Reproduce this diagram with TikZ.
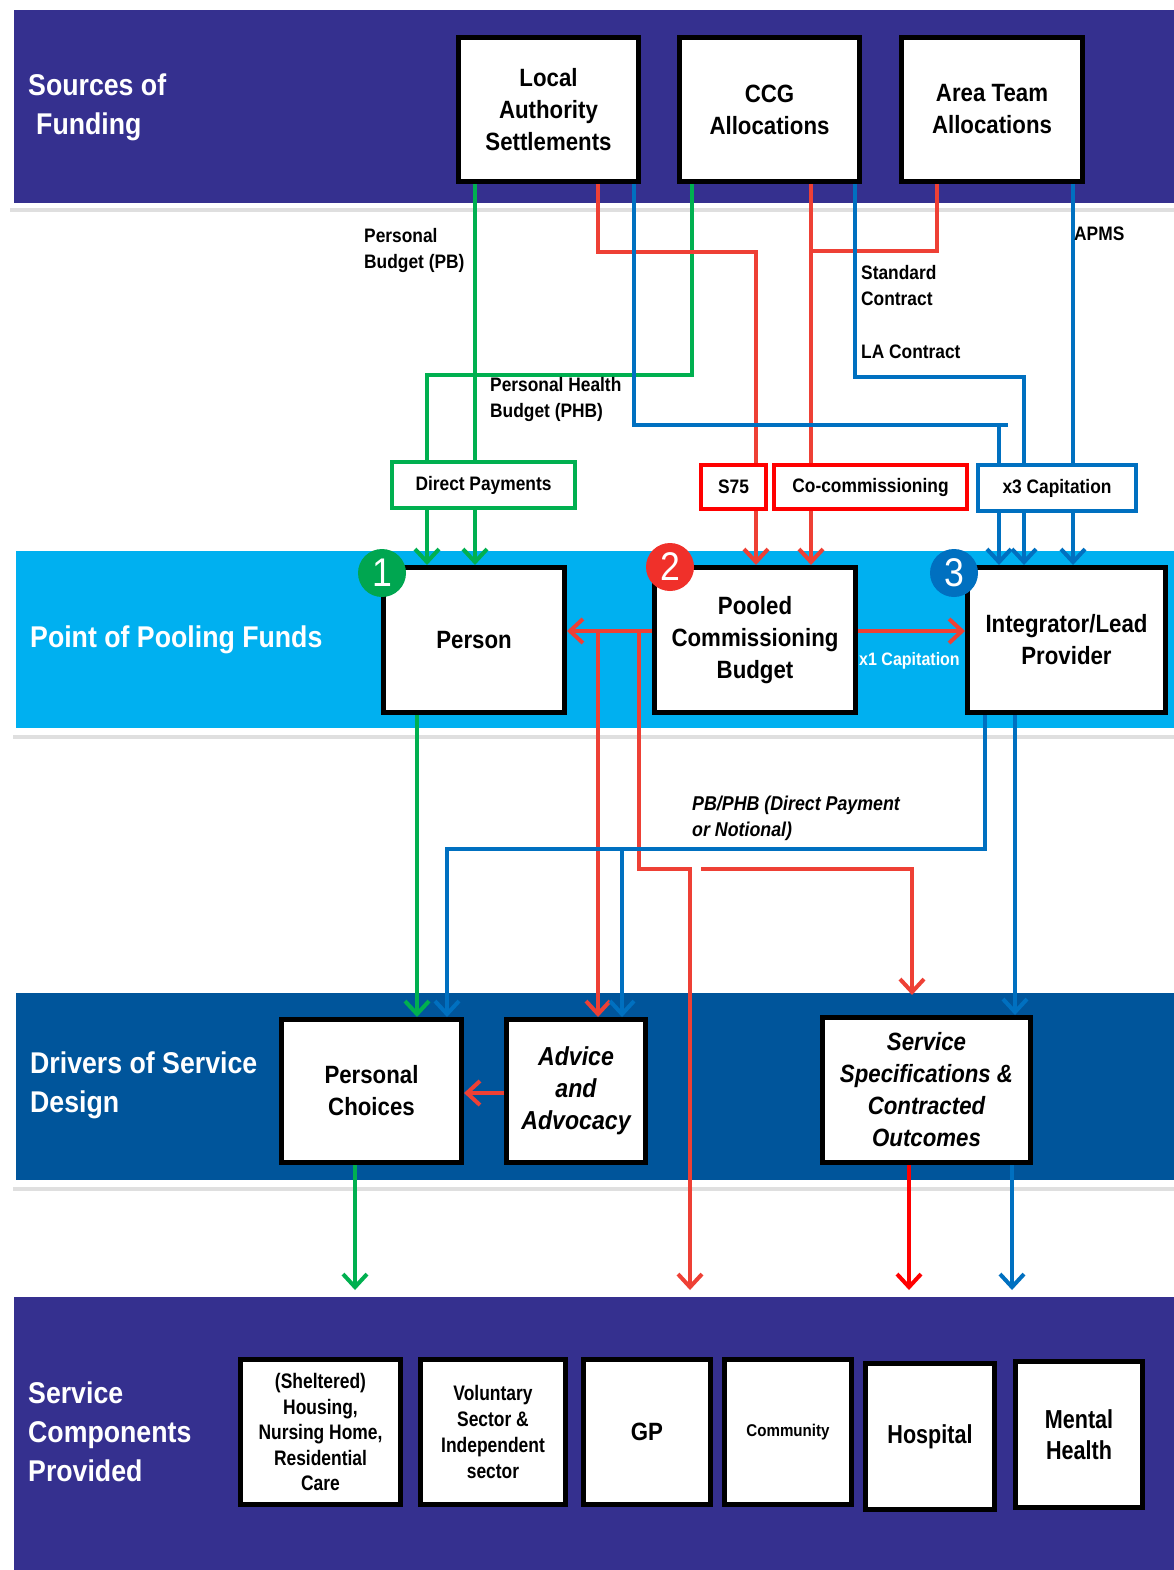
\documentclass[tikz,border=0pt]{standalone}
\usepackage{fontspec}
\setmainfont{Liberation Sans}[FakeStretch=0.89]
\newfontfamily\narrowfont{Liberation Sans}[FakeStretch=0.83]
\usetikzlibrary{arrows.meta}
\definecolor{bpurple}{HTML}{35308F}
\definecolor{bcyan}{HTML}{00B0F0}
\definecolor{bdrv}{HTML}{00559B}
\definecolor{lgreen}{HTML}{00B050}
\definecolor{lred}{HTML}{EE4035}
\definecolor{rbox}{HTML}{FF0000}
\definecolor{lblue}{HTML}{0070C0}
\definecolor{bgreen}{HTML}{00A650}
\definecolor{bred}{HTML}{F0302A}
\newcommand\fsz[2]{\fontsize{#1}{#2}\selectfont}
\begin{document}
\begin{tikzpicture}[x=1pt,y=-1pt,
 box/.style={draw=black, line width=5pt, fill=white, inner sep=0pt, align=center,
   minimum width=180pt, minimum height=144pt, font=\bfseries\fsz{25}{32}},
 sbox/.style={box, font=\narrowfont\bfseries\fsz{21}{25.5}, minimum width=127pt, minimum height=145pt},
 lbox/.style={line width=4pt, fill=white, inner sep=0pt, align=center, font=\bfseries\fsz{19.5}{24}},
 conn/.style={line width=4pt, -{Straight Barb[length=13pt,width=24pt,line width=4pt]}},
 seg/.style={line width=4pt},
 lab/.style={inner sep=0pt, anchor=west, align=left, font=\bfseries\fsz{19.5}{26}},
 bandlab/.style={inner sep=0pt, anchor=west, align=left, text=white, font=\bfseries\fsz{30}{39}},
 badge/.style={circle, minimum size=48pt, inner sep=0pt, text=white, font=\fsz{40}{40}},
]
\useasboundingbox (0,0) rectangle (1174,1570);
\fill[white] (0,0) rectangle (1174,1570);
% bands
\fill[gray!25] (10,6) rectangle (1180,212);
\fill[white] (7,3) rectangle (1180,208);
\fill[bpurple] (14,10) rectangle (1180,203);
\fill[gray!25] (13,548) rectangle (1180,739);
\fill[white] (10,545) rectangle (1180,735);
\fill[bcyan] (16,551) rectangle (1180,728);
\fill[gray!25] (13,990) rectangle (1180,1191);
\fill[white] (10,987) rectangle (1180,1187);
\fill[bdrv] (16,993) rectangle (1180,1180);
\fill[gray!25] (10,1294) rectangle (1180,1580);
\fill[white] (7,1291) rectangle (1180,1580);
\fill[bpurple] (14,1297) rectangle (1180,1580);
% band labels
\node[bandlab] (lsrc) at (28,107.5) {Sources of\\\hspace*{8pt}Funding};
\node[bandlab] (lpool) at (30,640) {Point of Pooling Funds};
\node[bandlab] (ldrv) at (30,1085.5) {Drivers of Service\\Design};
\node[bandlab] (lsvc) at (28,1431.5) {Service\\Components\\Provided};
% main boxes
\node[box] (la) at (548.5,109.5) {Local\\Authority\\Settlements};
\node[box] (ccg) at (769.5,109.5) {CCG\\Allocations};
\node[box, minimum width=181pt] (atm) at (992,109.5) {Area Team\\Allocations};
\node[box, minimum width=181pt, minimum height=145pt] (person) at (474,640) {Person};
\node[box, minimum width=201pt, minimum height=145pt] (pool) at (755,640) {Pooled\\Commissioning\\Budget};
\node[box, minimum width=198pt, minimum height=145pt] (integ) at (1066.5,640) {Integrator/Lead\\Provider};
\node[box, minimum height=143pt] (pc) at (371.5,1091) {Personal\\Choices};
\node[box, minimum width=139pt, minimum height=143pt, font=\bfseries\itshape\fsz{26}{32}] (adv) at (576,1091) {Advice\\and\\Advocacy};
\node[box, minimum width=208pt, minimum height=145pt, font=\bfseries\itshape\fsz{25}{32}] (ssc) at (926.5,1090) {Service\\Specifications \&\\Contracted\\Outcomes};
% bottom boxes
\node[sbox, minimum width=160pt] (b1) at (320.5,1432) {(Sheltered)\\Housing,\\Nursing Home,\\Residential\\Care};
\node[sbox, minimum width=145pt, font=\narrowfont\bfseries\fsz{21}{26}] (b2) at (493,1432) {Voluntary\\Sector \&\\Independent\\sector};
\node[sbox, font=\bfseries\fsz{25}{30}] (b3) at (647,1432) {GP};
\node[sbox, font=\bfseries\fsz{17}{20}] (b4) at (788,1432) {Community};
\node[sbox, minimum width=129pt, minimum height=146pt, font=\narrowfont\bfseries\fsz{26}{31}] (b5) at (930,1436.5) {Hospital};
\node[sbox, minimum height=146pt, font=\narrowfont\bfseries\fsz{26}{31}] (b6) at (1079,1434.5) {Mental\\Health};
% junction coordinates
\coordinate (gbend) at (427,375);
\coordinate (rbendA) at (756,252);
\coordinate (rjoin) at (811,251);
\coordinate (bbendA) at (1008,425);
\coordinate (bdrop) at (999,425);
\coordinate (bbendB) at (1024,377);
\coordinate (rsplitA) at (598,631);
\coordinate (rsplitB) at (639,631);
\coordinate (rbend) at (690,869);
\coordinate (rbranch) at (701,869);
\coordinate (bleft) at (447,849);
\coordinate (bsplit) at (622,849);
\coordinate (pcout) at (355,1290);
\coordinate (gpin) at (690,1290);
\coordinate (sscin) at (912,995);
\coordinate (hospin) at (909,1290);
\coordinate (mhin) at (1012,1290);
% green connectors
\draw[conn, lgreen] (475,0 |- la.south) -- (475,0 |- person.north);
\draw[conn, lgreen] (692,0 |- ccg.south) |- (gbend) -- (427,0 |- person.north);
\draw[conn, lgreen] (417,0 |- person.south) -- (417,0 |- pc.north);
\draw[conn, lgreen] (355,0 |- pc.south) -- (pcout);
% red connectors
\draw[conn, lred] (598,0 |- la.south) |- (rbendA) -- (756,0 |- pool.north);
\draw[conn, lred] (811,0 |- ccg.south) -- (811,0 |- pool.north);
\draw[seg, lred] (937,0 |- atm.south) |- (rjoin);
\draw[conn, lred] (pool.west |- 0,631) -- (person.east |- 0,631);
\draw[conn, lred] (rsplitA) -- (598,0 |- adv.north);
\draw[conn, lred] (rsplitB) |- (rbend) -- (gpin);
\draw[conn, lred] (rbranch) -| (sscin);
\draw[conn, lred] (pool.east |- 0,631) -- (integ.west |- 0,631);
\draw[conn, lred] (adv.west |- 0,1093) -- (pc.east |- 0,1093);
\draw[conn, rbox] (909,0 |- ssc.south) -- (hospin);
% blue connectors
\draw[seg, lblue] (634,0 |- la.south) |- (bbendA);
\draw[conn, lblue] (bdrop) -- (999,0 |- integ.north);
\draw[conn, lblue] (855,0 |- ccg.south) |- (bbendB) -- (1024,0 |- integ.north);
\draw[conn, lblue] (1073,0 |- atm.south) -- (1073,0 |- integ.north);
\draw[conn, lblue] (985,0 |- integ.south) |- (bleft) -- (447,0 |- pc.north);
\draw[conn, lblue] (bsplit) -- (622,0 |- adv.north);
\draw[conn, lblue] (1015,0 |- integ.south) -- (1015,0 |- ssc.north);
\draw[conn, lblue] (1012,0 |- ssc.south) -- (mhin);
% label boxes
\node[lbox, draw=lgreen, minimum width=183pt, minimum height=46pt] (dp) at (483.5,485) {Direct Payments};
\node[lbox, draw=rbox, minimum width=65pt, minimum height=44pt] (s75) at (733.5,487) {S75};
\node[lbox, draw=rbox, minimum width=193pt, minimum height=44pt] (cocom) at (870.5,487) {Co-commissioning};
\node[lbox, draw=lblue, minimum width=158pt, minimum height=46pt] (x3) at (1057,488) {x3 Capitation};
% text labels
\node[lab] (tpb) at (364,251) {Personal\\Budget (PB)};
\node[lab] (tphb) at (490,399) {Personal Health\\Budget (PHB)};
\node[lab] (tapms) at (1074,234) {APMS};
\node[lab] (tstd) at (861,286) {Standard\\Contract};
\node[lab] (tla) at (861,352) {LA Contract};
\node[lab, font=\bfseries\itshape\fsz{20}{26}] (tpbphb) at (692,818) {PB/PHB (Direct Payment\\or Notional)};
\node[lab, text=white, font=\bfseries\fsz{18}{22}] (tx1) at (859,661) {x1 Capitation};
% badges
\node[badge, fill=bgreen] (n1) at (382,573) {1};
\node[badge, fill=bred] (n2) at (670,567) {2};
\node[badge, fill=lblue] (n3) at (954,573) {3};
\end{tikzpicture}
\end{document}
